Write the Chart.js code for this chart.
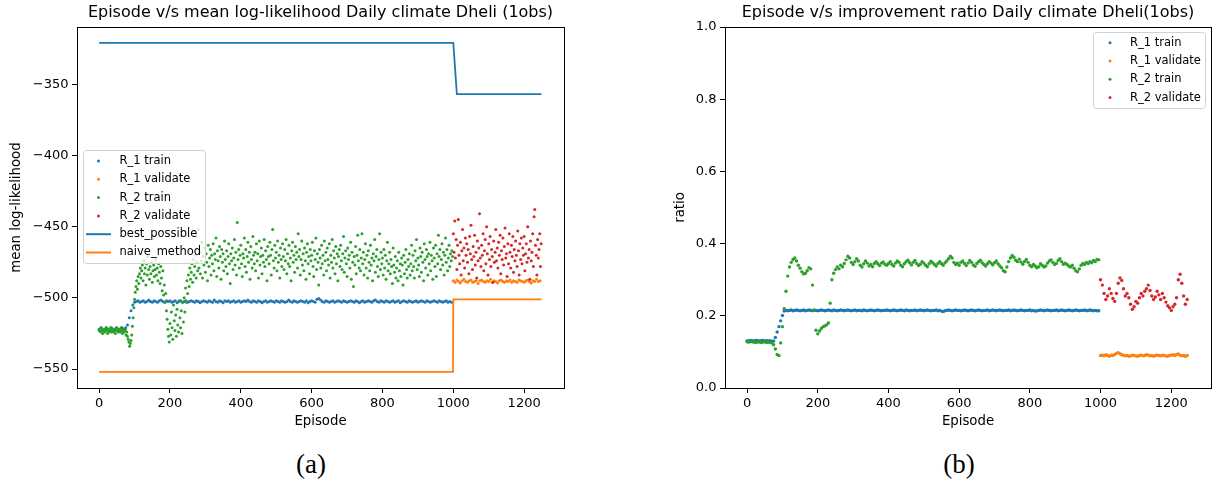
<!DOCTYPE html>
<html lang="en">
<head>
<meta charset="UTF-8">
<title>Daily climate Dheli (1obs)</title>
<script src="https://cdn.jsdelivr.net/npm/chart.js"></script>
<style>
    body {
        margin: 0;
        background: white;
        width: 1217px;
        height: 486px;
        position: relative;
        overflow: hidden;
        font-family: "DejaVu Sans", sans-serif;
    }
    canvas { position: absolute; top: 0; }
    #chartA { left: 0; }
    #chartB { left: 640px; }
    .caption {
        position: absolute;
        top: 449px;
        font-family: "Liberation Serif", "DejaVu Serif", serif;
        font-size: 27px;
        line-height: 30px;
        transform: translateX(-50%);
        color: #000;
    }
</style>
</head>
<body>
<canvas id="chartA" width="600" height="440"></canvas>
<canvas id="chartB" width="577" height="440"></canvas>
<div class="caption" style="left:311px">(a)</div>
<div class="caption" style="left:959px">(b)</div>

<script>
// ---- data ----
function range(start, stop, step) {
    const out = [];
    for (let v = start; v <= stop; v += step) out.push(v);
    return out;
}
const trainEpisodes = range(0, 995, 5);      // bands, every 5th episode
const trainEpisodesFine = range(0, 998, 2);  // noisy cloud, every 2nd episode
const validEpisodes = range(1000, 1245, 5);
const validEpisodesFine = range(1000, 1248, 2);

const xTicks = [0, 200, 400, 600, 800, 1000, 1200];
const llTicks = [-550, -500, -450, -400, -350];
const ratioTicks = [0, 0.2, 0.4, 0.6, 0.8, 1.0];

// (a) mean log-likelihood
const llR1Train = [
    -522,-521,-523,-522,-521,-522,-523,-521,-522,-522,-521,-523,-522,-521,-522,-521,-519,-514,-509,-505,
    -503,-502.5,-502,-503,-502.5,-502,-503,-502.5,-501.5,-502.5,-503,-502,-502.5,-503,-502,-501.5,-502.5,-503,-502,-502.5,
    -502,-503,-502.5,-502,-503.5,-502.5,-502,-503,-502.5,-502,-503,-502.5,-502,-502.5,-503,-502,-502.5,-503.5,-502.5,-502,
    -502.5,-503,-502,-502.5,-503,-501.5,-502.5,-503,-502,-502.5,-503.5,-502,-502.5,-502,-503,-502.5,-502,-503,-502.5,-502,
    -503,-502.5,-502,-502.5,-501.5,-502.5,-503,-502,-502.5,-503,-502,-502.5,-503.5,-502.5,-502,-503,-502.5,-502,-502.5,-503,
    -502,-502.5,-503,-502,-502.5,-503,-502.5,-501.5,-502.5,-503,-502,-502.5,-503,-502.5,-502,-502.5,-503,-502,-503.5,-502.5,
    -502,-502.5,-503,-501,-500.5,-501.5,-502.5,-503,-502,-502.5,-503,-502.5,-502,-503,-502.5,-502,-502.5,-503,-502,-502.5,
    -503,-502.5,-502,-502.5,-503,-502,-502.5,-503.5,-502.5,-502,-503,-502.5,-502,-502.5,-503,-502,-501.5,-502.5,-503,-502,
    -502.5,-503,-502,-502.5,-503,-502.5,-502,-503,-502.5,-502,-503.5,-502.5,-502,-502.5,-503,-502,-502.5,-503,-502.5,-502,
    -503,-502.5,-502,-502.5,-503,-502,-502.5,-503,-502.5,-502,-502.5,-503,-502,-502.5,-503,-502.5,-502,-503,-502.5,-503
];
const llR1Valid = [
    -488,-489,-487.5,-488.5,-489.5,-488,-487,-488.5,-489,-488,
    -487.5,-489,-488.5,-488,-490,-488,-487.5,-488.5,-489,-488,
    -488.5,-487,-489,-488,-488.5,-489.5,-488,-487.5,-488.5,-489,
    -488,-488.5,-487.5,-489,-488,-488.5,-489,-487.5,-488,-488.5,
    -489,-488,-487.5,-488.5,-489.5,-488,-488.5,-487,-488.5,-488
];
const llR2Train = [
    -523,-522,-524,-521,-523,-525,-522,-523,-524,-522,-521,-523,-525,-524,-522,-523,-521,-524,-523,-522,
    -524,-522,-523,-525,-521,-523,-522,-524,-523,-522,-524,-521,-523,-525,-522,-524,-523,-522,-526,-524,
    -527,-529,-531,-534,-532,-530,-526,-520,-514,-507,-501,-496,-492,-488,-494,-485,-490,-483,-479,-486,
    -481,-477,-488,-474,-483,-479,-491,-476,-484,-471,-480,-487,-478,-483,-475,-489,-481,-477,-485,-480,
    -473,-484,-479,-488,-476,-482,-490,-478,-486,-495,-481,-498,-491,-503,-497,-509,-515,-522,-527,-531,
    -518,-526,-510,-521,-529,-505,-516,-523,-512,-527,-508,-519,-524,-502,-514,-521,-509,-525,-503,-517,
    -500,-510,-493,-503,-488,-497,-484,-492,-479,-487,-482,-476,-489,-473,-484,-478,-470,-486,-475,-481,
    -452,-479,-468,-483,-474,-461,-486,-471,-477,-465,-482,-469,-475,-488,-463,-478,-472,-466,-484,-470,
    -476,-462,-481,-469,-473,-458,-485,-467,-474,-479,-464,-471,-487,-466,-475,-469,-481,-460,-473,-478,
    -467,-483,-471,-462,-476,-490,-469,-474,-465,-480,-472,-459,-477,-468,-484,-447,-473,-466,-479,-470,
    -463,-476,-485,-469,-472,-458,-478,-466,-482,-471,-461,-475,-468,-487,-464,-473,-479,-457,-470,-476,
    -468,-481,-462,-474,-469,-486,-460,-477,-471,-465,-483,-470,-475,-459,-478,-467,-473,-488,-464,-471,
    -476,-461,-470,-484,-466,-452,-474,-479,-463,-472,-468,-481,-460,-475,-470,-486,-465,-473,-478,-462,
    -471,-480,-466,-474,-459,-483,-469,-476,-463,-478,-472,-488,-467,-461,-475,-470,-482,-464,-473,-468,
    -479,-455,-471,-466,-484,-473,-460,-477,-469,-481,-465,-474,-487,-468,-462,-476,-471,-483,-466,-474,
    -470,-461,-478,-485,-467,-473,-458,-480,-469,-475,-491,-466,-472,-479,-463,-476,-470,-484,-460,-474,
    -468,-481,-465,-473,-477,-462,-486,-470,-475,-459,-479,-467,-472,-483,-464,-476,-469,-488,-471,-466,
    -478,-463,-474,-480,-469,-457,-482,-472,-467,-476,-485,-465,-473,-470,-479,-461,-487,-468,-475,-492,
    -471,-477,-464,-483,-470,-456,-474,-479,-466,-481,-472,-455,-476,-468,-484,-473,-462,-479,-470,-486,
    -467,-475,-481,-463,-477,-472,-488,-469,-474,-459,-482,-471,-466,-478,-485,-473,-455,-480,-468,-476,
    -472,-484,-466,-479,-470,-487,-474,-461,-481,-476,-468,-483,-473,-478,-490,-465,-477,-482,-471,-486,
    -479,-474,-488,-468,-481,-476,-485,-472,-477,-491,-470,-483,-475,-466,-480,-486,-473,-478,-469,-484,
    -476,-463,-481,-470,-478,-486,-467,-474,-459,-480,-472,-477,-485,-465,-471,-482,-468,-475,-488,-462,
    -473,-479,-466,-471,-484,-469,-476,-461,-481,-470,-474,-487,-465,-472,-478,-463,-485,-469,-476,-456,
    -471,-466,-480,-473,-462,-477,-468,-484,-470,-458,-475,-466,-481,-472,-463,-478,-469,-474,-467,-471
];
const llR2Valid = [
    -455,-468,-446,-472,-459,-480,-463,-445,-470,-476,-461,-484,-467,-452,-474,-465,-479,-458,-470,-462,
    -475,-466,-483,-457,-469,-449,-473,-480,-464,-471,-456,-477,-468,-486,-460,-474,-465,-441,-472,-478,
    -463,-470,-455,-481,-467,-459,-476,-450,-469,-484,-462,-473,-457,-478,-466,-471,-489,-460,-475,-468,
    -452,-474,-465,-479,-461,-470,-456,-483,-467,-473,-458,-477,-464,-451,-472,-469,-485,-462,-476,-455,
    -468,-479,-463,-471,-457,-482,-466,-474,-460,-470,-478,-453,-467,-484,-462,-473,-458,-476,-465,-470,
    -457,-481,-469,-462,-475,-450,-472,-466,-487,-460,-474,-468,-455,-478,-443,-438,-463,-470,-484,-459,
    -472,-466,-455,-478,-462
];
const bestEpisodes = [0, 1000, 1010, 1249];
const bestPossible = [-321, -321, -357, -357];
const naiveEpisodes = [0, 999, 1000, 1249];
const naiveMethod = [-552, -552, -501, -501];

// (b) improvement ratio
const ratioR1Train = [
    0.130,0.131,0.132,0.131,0.130,0.132,0.131,0.130,0.131,0.132,0.130,0.131,0.130,0.131,0.129,0.130,0.140,0.155,0.170,0.186,
    0.201,0.213,0.215,0.214,0.215,0.216,0.214,0.215,0.216,0.215,0.214,0.215,0.216,0.214,0.215,0.216,0.215,0.214,0.216,0.215,
    0.214,0.215,0.216,0.215,0.214,0.215,0.216,0.215,0.214,0.216,0.215,0.214,0.215,0.216,0.215,0.214,0.215,0.216,0.215,0.214,
    0.215,0.216,0.214,0.215,0.215,0.214,0.216,0.215,0.214,0.215,0.216,0.215,0.214,0.215,0.216,0.215,0.214,0.215,0.215,0.216,
    0.215,0.214,0.215,0.216,0.215,0.214,0.215,0.216,0.215,0.214,0.216,0.215,0.214,0.215,0.215,0.216,0.214,0.215,0.216,0.215,
    0.214,0.215,0.216,0.215,0.214,0.215,0.215,0.216,0.214,0.215,0.213,0.212,0.214,0.215,0.216,0.215,0.214,0.215,0.216,0.215,
    0.215,0.214,0.215,0.216,0.215,0.214,0.215,0.216,0.215,0.214,0.215,0.216,0.215,0.214,0.215,0.215,0.216,0.214,0.215,0.216,
    0.215,0.214,0.215,0.216,0.215,0.214,0.215,0.215,0.216,0.214,0.215,0.216,0.215,0.214,0.215,0.216,0.215,0.214,0.215,0.215,
    0.216,0.214,0.215,0.213,0.214,0.215,0.216,0.215,0.214,0.215,0.216,0.215,0.214,0.215,0.215,0.216,0.214,0.215,0.216,0.215,
    0.214,0.215,0.216,0.215,0.214,0.215,0.216,0.215,0.214,0.215,0.215,0.216,0.214,0.215,0.216,0.215,0.214,0.215,0.214,0.214
];
const ratioR1Valid = [
    0.090,0.091,0.089,0.092,0.090,0.088,0.091,0.090,0.093,0.096,
    0.098,0.095,0.092,0.091,0.089,0.090,0.088,0.089,0.091,0.090,
    0.089,0.088,0.090,0.091,0.089,0.090,0.092,0.091,0.089,0.090,
    0.088,0.090,0.091,0.090,0.089,0.091,0.090,0.089,0.088,0.090,
    0.091,0.092,0.090,0.093,0.094,0.091,0.089,0.090,0.088,0.090
];
const ratioR2Train = [
    0.128,0.127,0.129,0.128,0.127,0.126,0.128,0.127,0.126,0.127,0.128,0.126,0.127,0.126,0.125,0.120,0.108,0.093,0.090,0.125,
    0.170,0.220,0.268,0.310,0.335,0.348,0.356,0.360,0.352,0.340,0.332,0.322,0.316,0.318,0.325,0.333,0.330,0.285,0.215,0.160,
    0.150,0.158,0.165,0.170,0.172,0.175,0.180,0.235,0.300,0.318,0.328,0.335,0.330,0.340,0.336,0.345,0.355,0.365,0.360,0.348,
    0.342,0.350,0.358,0.352,0.340,0.335,0.344,0.352,0.346,0.338,0.342,0.336,0.345,0.350,0.344,0.339,0.346,0.349,0.343,0.340,
    0.345,0.350,0.342,0.338,0.346,0.352,0.348,0.340,0.336,0.344,0.350,0.354,0.347,0.341,0.348,0.353,0.345,0.339,0.343,0.350,
    0.346,0.340,0.336,0.344,0.351,0.347,0.342,0.338,0.345,0.350,0.344,0.340,0.347,0.352,0.358,0.365,0.360,0.348,0.342,0.346,
    0.340,0.348,0.352,0.345,0.339,0.346,0.353,0.348,0.341,0.337,0.345,0.350,0.354,0.347,0.342,0.338,0.344,0.350,0.346,0.341,
    0.347,0.352,0.344,0.338,0.333,0.325,0.322,0.335,0.350,0.360,0.367,0.362,0.354,0.350,0.357,0.349,0.343,0.350,0.356,0.348,
    0.340,0.336,0.342,0.338,0.333,0.336,0.344,0.340,0.335,0.338,0.346,0.352,0.355,0.348,0.342,0.345,0.353,0.358,0.350,0.343,
    0.346,0.342,0.338,0.335,0.340,0.332,0.325,0.322,0.330,0.340,0.345,0.342,0.348,0.345,0.350,0.347,0.353,0.350,0.356,0.355
];
const ratioR2Valid = [
    0.300,0.285,0.262,0.245,0.255,0.275,0.262,0.248,0.240,0.262,
    0.290,0.305,0.298,0.275,0.255,0.262,0.250,0.232,0.218,0.225,
    0.240,0.235,0.250,0.262,0.255,0.268,0.275,0.285,0.270,0.255,
    0.245,0.252,0.268,0.258,0.245,0.262,0.250,0.238,0.228,0.222,
    0.215,0.225,0.232,0.250,0.300,0.315,0.290,0.255,0.232,0.245
];

// ---- helpers ----
const BLUE = '#1f77b4', ORANGE = '#ff7f0e', GREEN = '#2ca02c', RED = '#d62728';

Chart.defaults.font.family = '"DejaVu Sans", sans-serif';
Chart.defaults.color = '#000';

function points(xs, ys) {
    return ys.map((y, i) => ({ x: xs[i], y: y }));
}

function dots(label, xs, ys, color, order, radius) {
    return {
        label: label, data: points(xs, ys), order: order,
        backgroundColor: color, borderColor: color,
        pointRadius: radius || 1.5, pointBorderWidth: 0, pointHoverRadius: 0,
        showLine: false, legendType: 'dot'
    };
}

function line(label, xs, ys, color, order) {
    return {
        label: label, data: points(xs, ys), order: order,
        borderColor: color, backgroundColor: color, borderWidth: 1.8,
        pointRadius: 0, showLine: true, fill: false, tension: 0, legendType: 'line'
    };
}

function minusSign(v) {
    return v < 0 ? '\u2212' + Math.abs(v) : String(v);
}

// black box around the plotting area (matplotlib spines)
const frame = {
    id: 'frame',
    afterDatasetsDraw(chart) {
        const ca = chart.chartArea, ctx = chart.ctx;
        ctx.save();
        ctx.strokeStyle = '#000';
        ctx.lineWidth = 1;
        ctx.strokeRect(Math.round(ca.left) + 0.5, Math.round(ca.top) + 0.5,
            Math.round(ca.right - ca.left), Math.round(ca.bottom - ca.top));
        ctx.restore();
    }
};

// matplotlib-like legend box inside the axes
const boxLegend = {
    id: 'boxLegend',
    afterDraw(chart, args, opts) {
        const ca = chart.chartArea, ctx = chart.ctx;
        const x = opts.fromRight ? ca.right - opts.offsetX - opts.width : ca.left + opts.offsetX;
        const y = ca.top + opts.offsetY;
        ctx.save();
        ctx.beginPath();
        ctx.roundRect(x + 0.5, y + 0.5, opts.width, opts.height, 3);
        ctx.fillStyle = 'rgba(255,255,255,0.8)';
        ctx.fill();
        ctx.strokeStyle = '#d0d0d0';
        ctx.lineWidth = 1;
        ctx.stroke();
        ctx.font = '11.5px "DejaVu Sans"';
        ctx.textBaseline = 'middle';
        chart.data.datasets.forEach((ds, i) => {
            const ry = y + opts.firstRow + i * opts.rowGap;
            if (ds.legendType === 'line') {
                ctx.strokeStyle = ds.borderColor;
                ctx.lineWidth = 2;
                ctx.beginPath();
                ctx.moveTo(x + 3, ry);
                ctx.lineTo(x + 28, ry);
                ctx.stroke();
            } else {
                ctx.fillStyle = ds.backgroundColor;
                ctx.beginPath();
                ctx.arc(x + opts.markerX, ry, 1.5, 0, Math.PI * 2);
                ctx.fill();
            }
            ctx.fillStyle = '#000';
            ctx.fillText(ds.label, x + opts.textX, ry);
        });
        ctx.restore();
    }
};

function axisX(titleText) {
    return {
        type: 'linear', min: -62.5, max: 1312.5,
        afterBuildTicks: s => { s.ticks = xTicks.map(v => ({ value: v })); },
        afterFit: s => { s.height = 52; },
        grid: { display: true, drawOnChartArea: false, drawTicks: true, tickLength: 5, color: '#000' },
        border: { display: false },
        ticks: { font: { size: 13 }, padding: 3, maxRotation: 0, autoSkip: false, callback: v => String(v) },
        title: { display: true, text: titleText, font: { size: 13.3 }, padding: { top: 0, bottom: 10 } }
    };
}

function axisY(min, max, tickValues, fmt, width, titleText, titlePad) {
    return {
        type: 'linear', min: min, max: max,
        afterBuildTicks: s => { s.ticks = tickValues.map(v => ({ value: v })); },
        afterFit: s => { s.width = width; },
        grid: { display: true, drawOnChartArea: false, drawTicks: true, tickLength: 5, color: '#000' },
        border: { display: false },
        ticks: { font: { size: 13 }, padding: 3.5, autoSkip: false, callback: fmt },
        title: { display: true, text: titleText, font: { size: 13.3 }, padding: { top: titlePad, bottom: 0 } }
    };
}

function titleOpts(text) {
    return {
        display: true, text: text, fullSize: false, color: '#000',
        font: { size: 16, weight: 'normal' }, padding: { top: 3, bottom: 4.8 }
    };
}

// ---- (a) ----
new Chart(document.getElementById('chartA'), {
    type: 'scatter',
    data: {
        datasets: [
            dots('R_1 train', trainEpisodes, llR1Train, BLUE, 5),
            dots('R_1 validate', validEpisodes, llR1Valid, ORANGE, 4),
            dots('R_2 train', trainEpisodesFine, llR2Train, GREEN, 3),
            dots('R_2 validate', validEpisodesFine, llR2Valid, RED, 2),
            line('best_possible', bestEpisodes, bestPossible, BLUE, 1),
            line('naive_method', naiveEpisodes, naiveMethod, ORANGE, 0)
        ]
    },
    options: {
        responsive: false, animation: false, events: [],
        layout: { padding: { left: 0, right: 36, top: 0, bottom: 0 } },
        scales: {
            x: axisX('Episode'),
            y: axisY(-563.3, -309.8, llTicks, v => minusSign(v), 77, 'mean log-likelihood', 9)
        },
        plugins: {
            legend: { display: false },
            tooltip: { enabled: false },
            title: titleOpts('Episode v/s mean log-likelihood Daily climate Dheli (1obs)'),
            boxLegend: { fromRight: false, offsetX: 6, offsetY: 123, width: 122, height: 113,
                         firstRow: 11, rowGap: 18.3, markerX: 15.5, textX: 36.5 }
        }
    },
    plugins: [frame, boxLegend]
});

// ---- (b) ----
new Chart(document.getElementById('chartB'), {
    type: 'scatter',
    data: {
        datasets: [
            dots('R_1 train', trainEpisodes, ratioR1Train, BLUE, 3, 1.7),
            dots('R_1 validate', validEpisodes, ratioR1Valid, ORANGE, 2, 1.7),
            dots('R_2 train', trainEpisodes, ratioR2Train, GREEN, 1, 1.7),
            dots('R_2 validate', validEpisodes, ratioR2Valid, RED, 0, 1.7)
        ]
    },
    options: {
        responsive: false, animation: false, events: [],
        layout: { padding: { left: 0, right: 6, top: 0, bottom: 0 } },
        scales: {
            x: axisX('Episode'),
            y: axisY(0, 1, ratioTicks, v => v.toFixed(1), 85, 'ratio', 33)
        },
        plugins: {
            legend: { display: false },
            tooltip: { enabled: false },
            title: titleOpts('Episode v/s improvement ratio Daily climate Dheli(1obs)'),
            boxLegend: { fromRight: true, offsetX: 6, offsetY: 5, width: 112, height: 76,
                         firstRow: 10.7, rowGap: 18.3, markerX: 17, textX: 37 }
        }
    },
    plugins: [frame, boxLegend]
});
</script>
</body>
</html>
